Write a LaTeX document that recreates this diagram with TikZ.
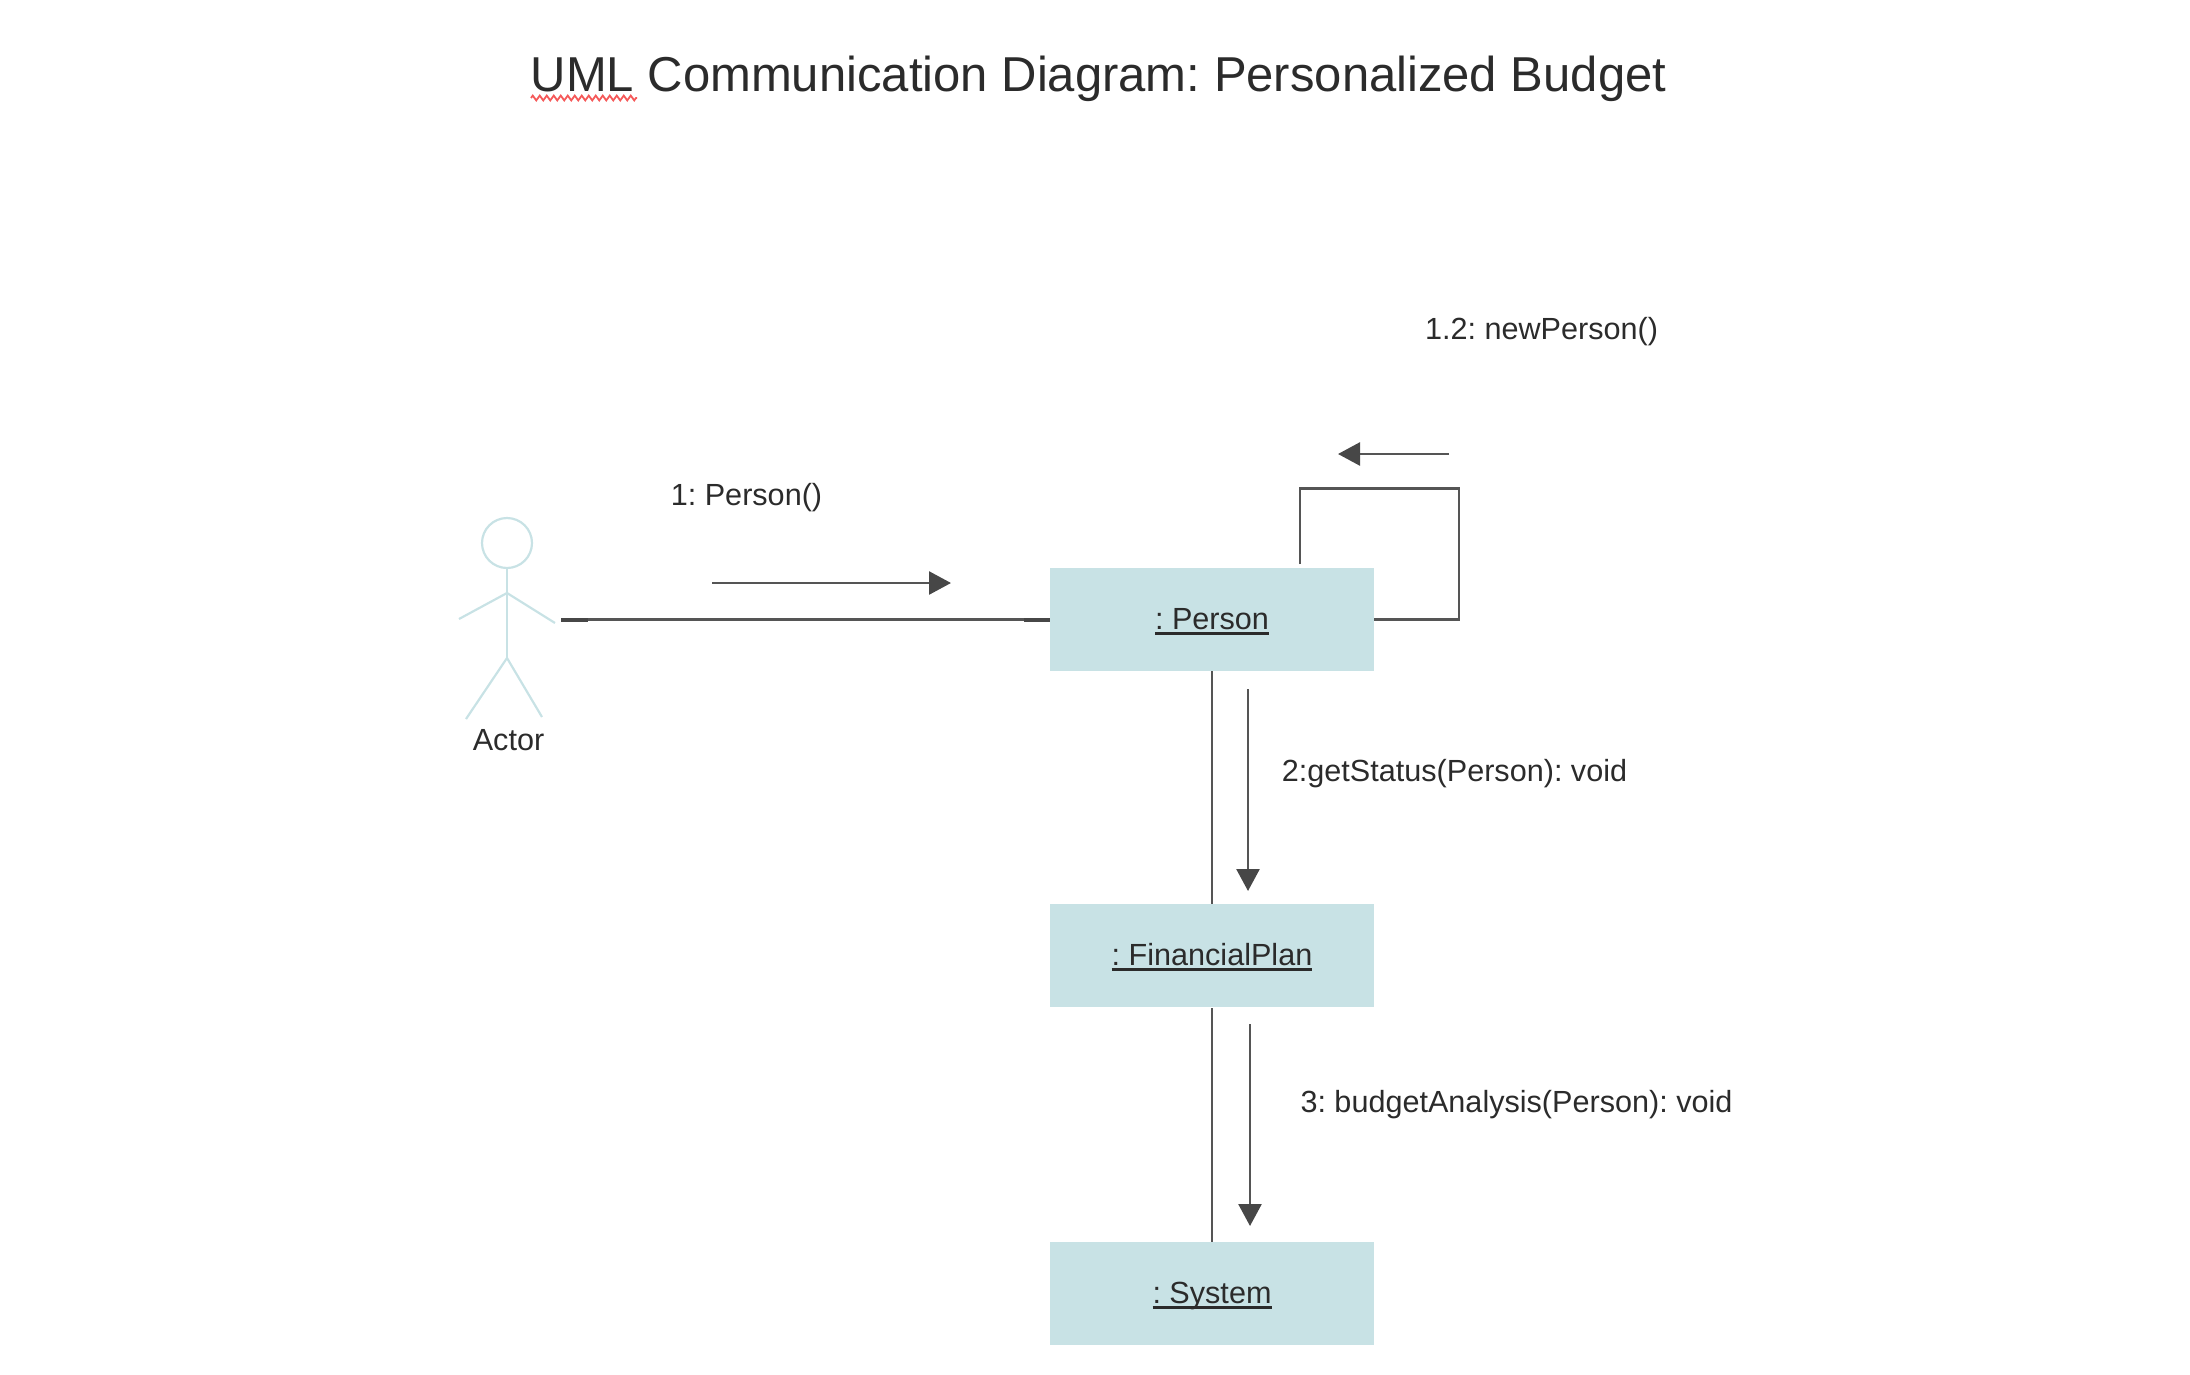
\documentclass[tikz,border=0pt]{standalone}
\usepackage{fontspec}
\setmainfont{Liberation Sans}
\usetikzlibrary{arrows.meta,decorations.pathmorphing}
\definecolor{boxfill}{HTML}{C8E2E5}
\definecolor{inkc}{HTML}{2B2B2B}
\definecolor{linec}{HTML}{555555}
\definecolor{headc}{HTML}{474747}
\definecolor{squig}{HTML}{F55A5A}
\newcommand{\lblfont}{\fontsize{30.6}{34}\selectfont}
\newcommand{\objname}[1]{\setbox0\hbox{#1}\rlap{\raisebox{-5.5pt}{\rule{\wd0}{2.6pt}}}\box0}
\frenchspacing
\tikzset{
  objbox/.style={draw=none,fill=boxfill,minimum width=324pt,minimum height=103pt,inner sep=0pt,text=inkc,font=\lblfont,text height=26pt,text depth=6pt},
  lbl/.style={text=inkc,font=\lblfont,inner sep=0pt},
  titlelbl/.style={text=inkc,font=\fontsize{49}{56}\selectfont,inner sep=0pt},
  link/.style={draw=linec,line width=2.6pt},
  linkend/.style={draw=headc,line width=4pt},
  msg/.style={draw=linec,line width=2.6pt,-{Triangle[length=22pt,width=23pt,color=headc]}},
  stick/.style={draw=boxfill,line width=2.2pt},
  squiggle/.style={draw=squig,line width=1.8pt,decorate,decoration={zigzag,segment length=7pt,amplitude=2.4pt}}
}
\begin{document}
\begin{tikzpicture}[x=1pt,y=-1pt]
\useasboundingbox (0,0) rectangle (2190,1374);
% title
\node[titlelbl] (title) at (1098.5,79) {UML Communication Diagram: Personalized Budget};
\coordinate (sqA) at (531,98);
\coordinate (sqB) at (637,98);
\draw[squiggle] (sqA) -- (sqB);
% objects
\node[objbox] (person) at (1212,619.5) {\objname{: Person}};
\node[objbox] (plan) at (1212,955.5) {\objname{: FinancialPlan}};
\node[objbox] (system) at (1212,1293.5) {\objname{: System}};
% actor
\node[circle,draw=boxfill,line width=2.2pt,minimum size=50pt,inner sep=0pt] (head) at (507,543) {};
\coordinate (shoulder) at (507,593);
\coordinate (hip) at (507,658);
\coordinate (handL) at (459,619);
\coordinate (handR) at (555,623);
\coordinate (footL) at (466,719);
\coordinate (footR) at (542,717);
\draw[stick] (head.south) -- (hip);
\draw[stick] (handL) -- (shoulder) -- (handR);
\draw[stick] (footL) -- (hip) -- (footR);
\node[lbl] (actor) at (508.5,740) {Actor};
% links
\coordinate (actorEnd) at (561,619.5);
\coordinate (actorEndB) at (588,619.5);
\coordinate (personEndB) at (1024,619.5);
\draw[link] (actorEnd) -- (person.west);
\draw[linkend] (actorEnd) -- (actorEndB);
\draw[linkend] (personEndB) -- (person.west);
\draw[link] (person.south) -- (plan.north);
\draw[link] (plan.south) ++(0,1) -- (system.north);
% self loop
\coordinate (loopA) at (1300,564);
\coordinate (loopB) at (1300,488.5);
\coordinate (loopC) at (1459,488.5);
\coordinate (loopD) at (1459,619.5);
\draw[link] (loopA) -- (loopB) -- (loopC) -- (loopD) -- (person.east);
% messages
\coordinate (m1a) at (712,583);
\coordinate (m1b) at (951,583);
\draw[msg] (m1a) -- (m1b);
\node[lbl] (l1) at (746.5,498) {1: Person()};
\coordinate (m12a) at (1449,454);
\coordinate (m12b) at (1338,454);
\draw[msg] (m12a) -- (m12b);
\node[lbl] (l12) at (1541.5,332) {1.2: newPerson()};
\coordinate (m2a) at (1248,689);
\coordinate (m2b) at (1248,891);
\draw[msg] (m2a) -- (m2b);
\node[lbl] (l2) at (1454.5,774) {2:getStatus(Person): void};
\coordinate (m3a) at (1250,1024);
\coordinate (m3b) at (1250,1226);
\draw[msg] (m3a) -- (m3b);
\node[lbl] (l3) at (1516.5,1105) {3: budgetAnalysis(Person): void};
\end{tikzpicture}
\end{document}
